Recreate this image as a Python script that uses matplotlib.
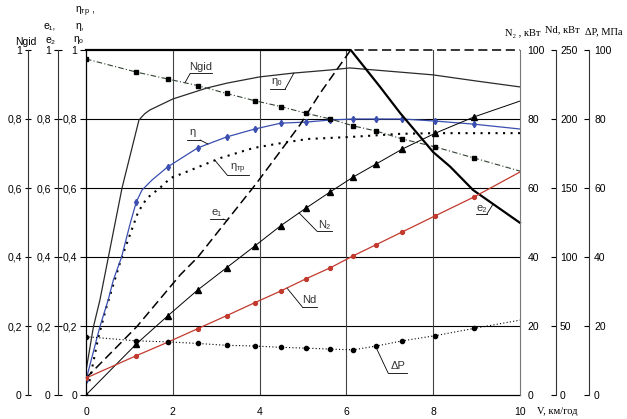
import matplotlib
matplotlib.use('Agg')
import matplotlib.pyplot as plt
import numpy as np

plt.rcParams['font.family'] = ['Liberation Sans', 'DejaVu Sans']
plt.rcParams['font.size'] = 7.5
plt.rcParams['mathtext.fontset'] = 'custom'
plt.rcParams['mathtext.rm'] = 'Liberation Sans'
plt.rcParams['mathtext.it'] = 'Liberation Sans:italic'

# speeds of the computed points, km/h
v = [0, 1.16, 1.88, 2.57, 3.24, 3.89, 4.49, 5.06, 5.63, 6.16, 6.69, 7.29, 8.05, 8.94, 10]

n_gid = [0.974, 0.936, 0.916, 0.897, 0.874, 0.853, 0.836, 0.817, 0.800, 0.780,
         0.765, 0.742, 0.719, 0.687, 0.649]
n2 = [0, 14.8, 22.9, 30.4, 36.9, 43.2, 49.1, 54.1, 58.9, 63.2, 67.0, 71.3, 75.9, 80.6, 85.2]
nd = [12.3, 28.5, 38.2, 48.0, 57.5, 66.9, 75.4, 84.1, 92.2, 100.9, 109.0, 118.2,
      129.9, 143.5, 161.6]
dp = [16.9, 15.7, 15.4, 14.95, 14.4, 14.2, 13.8, 13.6, 13.3, 13.1, 14.2, 15.7,
      17.2, 19.3, 21.7]

# efficiency of the drive, with extra points on the steep part
eta_v = [0, 0.32, 0.51, 0.63, 0.82, 1.02, 1.16, 1.29, 1.52, 1.88, 2.57, 3.24, 3.89,
         4.49, 5.06, 5.63, 6.16, 6.69, 7.29, 8.05, 8.94, 10]
eta = [0.043, 0.198, 0.275, 0.333, 0.40, 0.498, 0.56, 0.594, 0.623, 0.661, 0.716,
       0.748, 0.771, 0.788, 0.791, 0.797, 0.80, 0.80, 0.80, 0.794, 0.785, 0.771]

eta_tr_v = [0.08, 0.28, 0.46, 0.63, 0.8, 1.0, 1.2, 1.4, 1.7, 1.95, 2.24, 3.1, 3.86,
            4.49, 5.1, 6.1, 7.24, 8.0, 10]
eta_tr = [0.04, 0.165, 0.25, 0.32, 0.39, 0.46, 0.53, 0.57, 0.60, 0.629, 0.643,
          0.687, 0.716, 0.730, 0.742, 0.748, 0.757, 0.759, 0.759]

eta0_v = [0, 0.17, 0.32, 0.83, 1.22, 1.35, 1.47, 2.0, 2.79, 3.25, 4.0, 4.77, 5.62,
          6.08, 7.99, 9.0, 10]
eta0 = [0.07, 0.197, 0.275, 0.60, 0.797, 0.815, 0.826, 0.858, 0.89, 0.904, 0.922,
        0.933, 0.942, 0.948, 0.928, 0.91, 0.893]

e1_v = [0, 1.17, 2.17, 2.58, 3.93, 4.93, 5.39, 6.1, 10]
e1 = [0.049, 0.198, 0.348, 0.40, 0.614, 0.783, 0.874, 1.0, 1.0]
e2_v = [0, 6.1, 6.77, 7.24, 8.0, 8.39, 8.92, 10]
e2 = [1.0, 1.0, 0.894, 0.817, 0.704, 0.662, 0.594, 0.499]

W, H = 627, 419
fig = plt.figure(figsize=(W / 100, H / 100), dpi=100)
ax = fig.add_axes([86 / W, 24 / H, 434 / W, 345 / H])


def px(x, y):
    return x / W, 1 - y / H


def side_axis(pos, side, top):
    a = ax.twinx()
    for s in a.spines.values():
        s.set_visible(False)
    a.spines[side].set_visible(True)
    a.spines[side].set_position(('axes', pos))
    a.spines[side].set_color('#333333')
    a.yaxis.set_ticks_position(side)
    a.set_ylim(0, top)
    return a


def comma(vals):
    return [('%g' % t).replace('.', ',') for t in vals]


ax.set_xlim(0, 10)
ax.set_ylim(0, 1)
ax.set_xticks([0, 2, 4, 6, 8, 10])
ax.tick_params(axis='x', length=0, pad=8.6)
yt = [0, 0.2, 0.4, 0.6, 0.8, 1]
ax.set_yticks(yt)
ax.set_yticklabels(comma(yt))
ax.tick_params(axis='y', direction='out', length=4.3, width=0.8, pad=2.2)
ax.spines['top'].set_visible(False)
ax.spines['right'].set_visible(False)
for s in ('left', 'bottom'):
    ax.spines[s].set_linewidth(0.9)
for t in [0.2, 0.4, 0.6, 0.8]:
    ax.axhline(t, color='black', lw=0.8, zorder=0)
for t in [2, 4, 6, 8]:
    ax.axvline(t, color='#444444', lw=0.8, zorder=0)

# left scales
ax_ng = side_axis(-0.134, 'left', 1)
ax_ng.set_yticks(yt)
ax_ng.set_yticklabels(comma(yt))
ax_ng.tick_params(axis='y', direction='inout', length=4.3, width=0.8, pad=2.2)

ax_e = side_axis(-0.065, 'left', 1)
ax_e.set_yticks(yt)
ax_e.set_yticklabels(comma(yt))
ax_e.tick_params(axis='y', direction='inout', length=5.8, width=0.8, pad=2.2)

# right scales
ax_n2 = side_axis(1.0, 'right', 100)
ax_n2.set_yticks(range(0, 101, 20))
ax_n2.tick_params(axis='y', length=0, pad=5.5)
ax_n2.spines['right'].set_color('#777777')

ax_nd = side_axis(1.083, 'right', 250)
ax_nd.set_yticks(range(0, 251, 50))
ax_nd.tick_params(axis='y', direction='in', length=3.6, width=0.8, pad=2.9)

ax_dp = side_axis(1.159, 'right', 100)
ax_dp.set_yticks(range(0, 101, 20))
ax_dp.tick_params(axis='y', direction='in', length=3.6, width=0.8, pad=3.6)

# curves
ax.plot(eta0_v, eta0, color='#2a2a2a', lw=0.9)
ax.plot(eta_tr_v, eta_tr, color='black', lw=1.5, linestyle=(0, (1, 2.6)))
ax.plot(eta_v, eta, color='#3a4fb0', lw=0.9)
mark = np.isin(eta_v, v[:-1])
ax.plot(np.array(eta_v)[mark], np.array(eta)[mark], 'd', color='#3a4fb0', ms=3.2)

ax_e.plot(e1_v, e1, color='black', lw=1.1, dashes=(6, 3), clip_on=False)
ax_e.plot(e2_v, e2, color='black', lw=1.6, clip_on=False)

ax_ng.plot(v, n_gid, color='#334433', lw=0.8, linestyle=(0, (5, 2, 1, 2)),
           marker='s', ms=3.2, mfc='black', mec='black', markevery=list(range(14)))
ax_n2.plot(v, n2, color='black', lw=0.7, marker='^', ms=3.8, markevery=list(range(14)))
ax_nd.plot(v, nd, color='#c23a2e', lw=0.9, marker='o', ms=2.8, markevery=list(range(14)))
ax_dp.plot(v, dp, color='black', lw=0.8, linestyle=(0, (1, 2)),
           marker='o', ms=3.0, markevery=list(range(14)))


# underlined curve names with a leader to the curve
def tag(text, tx, ty, x0, x1, uy, side, lx, xs, ys, scale=1.0):
    ly = np.interp(lx, xs, ys) / scale
    ax.text(tx, ty, text, ha='center', va='center', color='#333333', fontsize=8)
    ax.plot([x0, x1], [uy, uy], color='black', lw=0.6)
    sx = x0 if side == 'l' else x1
    ax.plot([sx, lx], [uy, ly], color='black', lw=0.6)


tag('Ngid', 2.65, 0.950, 2.40, 2.90, 0.932, 'l', 2.28, v, n_gid)
tag('η₀', 4.40, 0.910, 4.24, 4.59, 0.887, 'r', 4.79, eta0_v, eta0)
tag('η', 2.46, 0.762, 2.33, 2.63, 0.739, 'r', 2.81, eta_v, eta)
tag(r'$\mathrm{η}_{\mathrm{тр}}$', 3.50, 0.656, 3.25, 3.76, 0.638, 'l', 2.97,
    eta_tr_v, eta_tr)
tag('e₁', 3.01, 0.530, 2.86, 3.16, 0.510, 'r', 3.25, e1_v, e1)
tag('N₂', 5.49, 0.492, 5.32, 5.67, 0.475, 'l', 4.91, v, n2, 100)
tag('Nd', 5.15, 0.275, 4.98, 5.32, 0.256, 'l', 4.63, v, nd, 250)
tag('ΔP', 7.18, 0.085, 6.96, 7.40, 0.064, 'l', 6.67, v, dp, 100)
tag('e₂', 9.12, 0.542, 8.99, 9.24, 0.525, 'r', 9.38, e2_v, e2)

# axis titles
fig.text(*px(26, 42), 'Ngid', ha='center', va='center')
fig.text(*px(50, 25.5), 'e₁,', ha='center', va='center')
fig.text(*px(51, 40.5), 'e₂', ha='center', va='center')
fig.text(*px(85, 12), r'$\mathrm{η}_{\mathrm{тр}}$ ,', ha='center', va='center')
fig.text(*px(80, 26), 'η,', ha='center', va='center')
fig.text(*px(79, 39.5), 'η₀', ha='center', va='center')
serif = ['Liberation Serif', 'DejaVu Serif']
fig.text(*px(523, 33), 'N₂ , кВт', ha='center', va='center', family=serif)
fig.text(*px(562, 30), 'Nd, кВт', ha='center', va='center', family=serif)
fig.text(*px(604, 32), 'ΔP, МПа', ha='center', va='center', family=serif)
fig.text(*px(537, 411), 'V, км/год', ha='left', va='center', family=serif)

fig.savefig('out.png', dpi=100)
